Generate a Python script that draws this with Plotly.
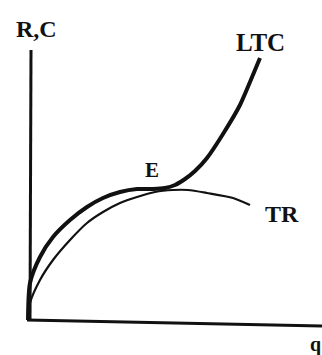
import plotly.graph_objects as go

# output q against revenue / cost
q_ltc = [0, 2, 12, 25, 42, 59, 75, 92, 109, 125, 137, 147, 157, 167, 179, 195, 212, 222, 232]
ltc = [0, 37, 63, 83, 100, 113, 122, 128, 131, 131, 132, 135, 141, 149, 162, 186, 215, 238, 262]

q_tr = [0, 2, 12, 25, 42, 59, 75, 92, 109, 127, 145, 160, 179, 205, 222]
tr = [0, 17, 40, 60, 80, 97, 108, 117, 123, 128, 130, 130, 127, 122, 115]

INK = '#111111'
SERIF = 'Liberation Serif, Times New Roman, serif'

fig = go.Figure()

fig.add_trace(go.Scatter(
    x=q_tr, y=tr, mode='lines',
    line=dict(color=INK, width=2.2, shape='spline', smoothing=0.7),
    hoverinfo='skip'
))
fig.add_trace(go.Scatter(
    x=q_ltc, y=ltc, mode='lines',
    line=dict(color=INK, width=4, shape='spline', smoothing=0.7),
    hoverinfo='skip'
))

# hand-drawn axes
fig.add_shape(type='line', x0=2, y0=-1, x1=3, y1=270, line=dict(color=INK, width=3))
fig.add_shape(type='line', x0=-1, y0=0, x1=294, y1=-6, line=dict(color=INK, width=3))

labels = [
    ('R,C', 8, 291, 24),
    ('LTC', 232, 278, 25),
    ('E', 124, 150, 21),
    ('TR', 254, 106, 24),
    ('q', 287, -24, 20),
]
for text, x, y, size in labels:
    fig.add_annotation(x=x, y=y, text=f'<b>{text}</b>', showarrow=False,
                       font=dict(family=SERIF, size=size, color=INK))

fig.update_layout(
    width=322, height=355,
    margin=dict(l=0, r=0, t=0, b=0),
    paper_bgcolor='white', plot_bgcolor='white',
    showlegend=False,
    xaxis=dict(range=[-28, 294], visible=False, fixedrange=True),
    yaxis=dict(range=[-35, 320], visible=False, fixedrange=True),
)

fig.write_html('out.html', config={'displayModeBar': False},
               post_script="document.body.style.margin='0';")
